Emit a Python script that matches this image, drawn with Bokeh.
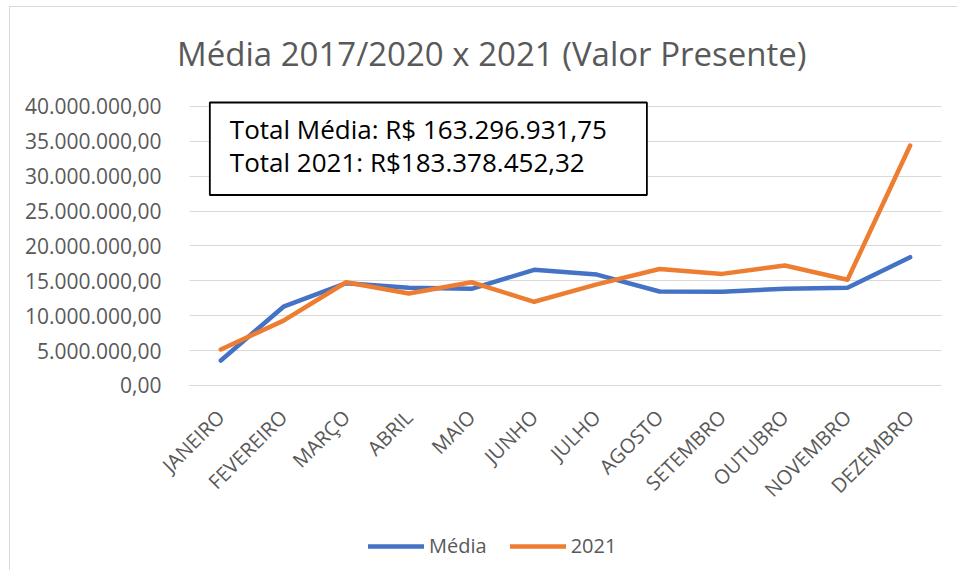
import math
from bokeh.plotting import figure
from bokeh.models import (FixedTicker, Range1d, Label, Legend, LegendItem)
from bokeh.embed import file_html
from bokeh.resources import INLINE

months = ["JANEIRO", "FEVEREIRO", "MARÇO", "ABRIL", "MAIO", "JUNHO", "JULHO",
          "AGOSTO", "SETEMBRO", "OUTUBRO", "NOVEMBRO", "DEZEMBRO"]
media = [3.58e6, 11.3e6, 14.67e6, 14.0e6, 13.86e6, 16.58e6, 15.9e6,
         13.48e6, 13.45e6, 13.86e6, 14.0e6, 18.4e6]
y2021 = [5.16e6, 9.3e6, 14.8e6, 13.2e6, 14.8e6, 12.0e6, 14.5e6,
         16.7e6, 16.0e6, 17.2e6, 15.15e6, 34.4e6]
y_ticks = [0, 5e6, 10e6, 15e6, 20e6, 25e6, 30e6, 35e6, 40e6]
y_tick_labels = ["0,00", "5.000.000,00", "10.000.000,00", "15.000.000,00",
                 "20.000.000,00", "25.000.000,00", "30.000.000,00",
                 "35.000.000,00", "40.000.000,00"]
title_text = "Média 2017/2020 x 2021 (Valor Presente)"
box_text = "Total Média: R$ 163.296.931,75\nTotal 2021: R$183.378.452,32"
series_names = ["Média", "2021"]

FONT = "Open Sans"
GRAY = "#595959"
GRID = "#d9d9d9"

x = list(range(len(months)))
x_lo, x_hi = -0.5, len(months) - 0.5

# The frame spans the whole chart area so that title, box, labels and legend
# are not clipped; axes are pinned at x=-0.5 / y=0 and bounded to the plot area.
p = figure(width=948, height=564, output_backend="svg", toolbar_location=None,
           x_range=Range1d(-3.3564, 11.7713),
           y_range=Range1d(-26.67e6, 54.05e6),
           min_border_left=0, min_border_right=0, min_border_top=1,
           min_border_bottom=0)
p.styles = {"margin-left": "9px", "margin-top": "6px",
            "border-left": "1px solid #d9d9d9", "border-top": "1px solid #d9d9d9"}
p.outline_line_color = None
p.background_fill_color = "white"
p.border_fill_color = "white"

# horizontal gridlines limited to the plot area
p.xgrid.grid_line_color = None
if "cross_bounds" in p.ygrid.properties():
    p.ygrid.grid_line_color = GRID
    p.ygrid.grid_line_width = 1
    p.ygrid.cross_bounds = (x_lo, x_hi)
else:
    p.ygrid.grid_line_color = None
    p.segment(x0=[x_lo] * len(y_ticks), x1=[x_hi] * len(y_ticks), y0=y_ticks, y1=y_ticks,
              line_color=GRID, line_width=1, level="underlay")

# axes
p.xaxis.fixed_location = 0
p.xaxis.bounds = (x_lo, x_hi)
p.xaxis.ticker = FixedTicker(ticks=x)
p.xaxis.major_label_overrides = {i: m for i, m in enumerate(months)}
p.xaxis.major_label_orientation = math.pi / 4
p.xaxis.major_label_text_font = FONT
p.xaxis.major_label_text_font_size = "20px"
p.xaxis.major_label_text_color = GRAY
p.xaxis.major_label_standoff = 22
p.xaxis.major_tick_line_color = None
p.xaxis.minor_tick_line_color = None
p.xaxis.axis_line_color = GRID
p.xaxis.axis_line_width = 1

p.yaxis.fixed_location = x_lo
p.yaxis.bounds = (y_ticks[0], y_ticks[-1])
p.yaxis.ticker = FixedTicker(ticks=y_ticks)
p.yaxis.major_label_overrides = {t: l for t, l in zip(y_ticks, y_tick_labels)}
p.yaxis.major_label_text_font = FONT
p.yaxis.major_label_text_font_size = "21px"
p.yaxis.major_label_text_color = GRAY
p.yaxis.major_label_standoff = 22
p.yaxis.major_tick_line_color = None
p.yaxis.minor_tick_line_color = None
p.yaxis.axis_line_color = None

r1 = p.line(x, media, line_color="#4472C4", line_width=4.5, line_join="round", line_cap="round")
r2 = p.line(x, y2021, line_color="#ED7D31", line_width=4.5, line_join="round", line_cap="round")

# title
title = Label(x=4.324, y=47.6e6, text=title_text, text_font=FONT, text_font_size="33px",
              text_color=GRAY, text_align="center", text_baseline="alphabetic")
p.add_layout(title)

# text box
box = Label(x=-0.1755, y=40.57e6, text=box_text, anchor="top_left",
            text_font=FONT, text_font_size="26px", text_color="black",
            text_line_height=0.93,
            padding=dict(left=20, right=40, top=8, bottom=15),
            background_fill_color="white", background_fill_alpha=1.0,
            border_line_color="black", border_line_width=1.8, level="overlay")
p.add_layout(box)

legend = Legend(items=[LegendItem(label=series_names[0], renderers=[r1]),
                       LegendItem(label=series_names[1], renderers=[r2])],
                orientation="horizontal", location=(358, 12),
                label_text_font=FONT, label_text_font_size="20px", label_text_color=GRAY,
                glyph_width=56, glyph_height=20, label_standoff=5, spacing=23,
                padding=0, margin=0, border_line_color=None, background_fill_alpha=0)
p.add_layout(legend, "center")

open("out.html", "w").write(file_html(p, INLINE))
